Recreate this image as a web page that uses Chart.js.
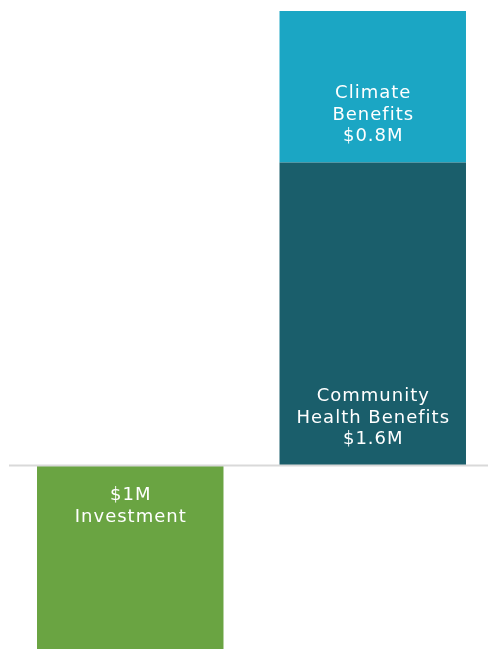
<!DOCTYPE html>
<html>
<head>
<meta charset="utf-8">
<script src="https://cdn.jsdelivr.net/npm/chart.js@4"></script>
<style>
    html, body { margin: 0; padding: 0; overflow: hidden; background: #fff; }
    #wrap { width: 494px; height: 655px; }
</style>
</head>
<body>
<div id="wrap"><canvas id="roi_chart"></canvas></div>
<script>
// bars
let categories = ['Investment', 'Return'];

let investment_values = [-1, null];
let health_values = [null, 1.6];
let climate_values = [null, 0.8];

// text shown on each bar
let investment_text = ['$1M', 'Investment'];
let health_text = ['Community', 'Health Benefits', '$1.6M'];
let climate_text = ['Climate', 'Benefits', '$0.8M'];

// zero line + bar labels
const barTextPlugin = {
    id: 'barText',
    afterDatasetsDraw(chart) {
        const ctx = chart.ctx;
        const y0 = chart.scales.y.getPixelForValue(0);
        ctx.save();
        ctx.strokeStyle = '#d9d9d9';
        ctx.lineWidth = 2;
        ctx.beginPath();
        ctx.moveTo(chart.chartArea.left, y0);
        ctx.lineTo(chart.chartArea.right, y0);
        ctx.stroke();

        ctx.fillStyle = '#ffffff';
        ctx.font = '18px "DejaVu Sans"';
        ctx.letterSpacing = '1px';
        ctx.textAlign = 'center';
        ctx.textBaseline = 'middle';
        const lineH = 21.5;
        chart.data.datasets.forEach((ds, i) => {
            const meta = chart.getDatasetMeta(i);
            meta.data.forEach((bar, j) => {
                if (ds.data[j] == null) return;
                const lines = ds.barText;
                const n = lines.length;
                let firstY;
                if (ds.data[j] < 0) {
                    firstY = bar.base + 30;
                } else {
                    firstY = bar.base - 26 - (n - 1) * lineH;
                }
                lines.forEach((t, k) => ctx.fillText(t, bar.x + 0.5, firstY + k * lineH));
            });
        });
        ctx.restore();
    }
};

const roi_data = {
    labels: categories,
    datasets: [
        {
            label: 'Investment',
            data: investment_values,
            backgroundColor: '#6aa442',
            barText: investment_text
        },
        {
            label: 'Community Health Benefits',
            data: health_values,
            backgroundColor: '#1a5e6b',
            barText: health_text
        },
        {
            label: 'Climate Benefits',
            data: climate_values,
            backgroundColor: '#1ba6c4',
            barText: climate_text
        }
    ]
};

const roi_config = {
    type: 'bar',
    data: roi_data,
    plugins: [barTextPlugin],
    options: {
        responsive: true,
        maintainAspectRatio: false,
        animation: false,
        layout: { padding: { top: 11, left: 9, right: 0, bottom: 0 } },
        datasets: {
            bar: { categoryPercentage: 1, barPercentage: 0.769 }
        },
        scales: {
            x: { stacked: true, display: false },
            y: { stacked: true, display: false, min: -1, max: 2.4 }
        },
        plugins: {
            legend: { display: false },
            tooltip: { enabled: false }
        }
    }
};

const roi_chart = new Chart(
    document.getElementById('roi_chart'),
    roi_config
);
</script>
</body>
</html>
